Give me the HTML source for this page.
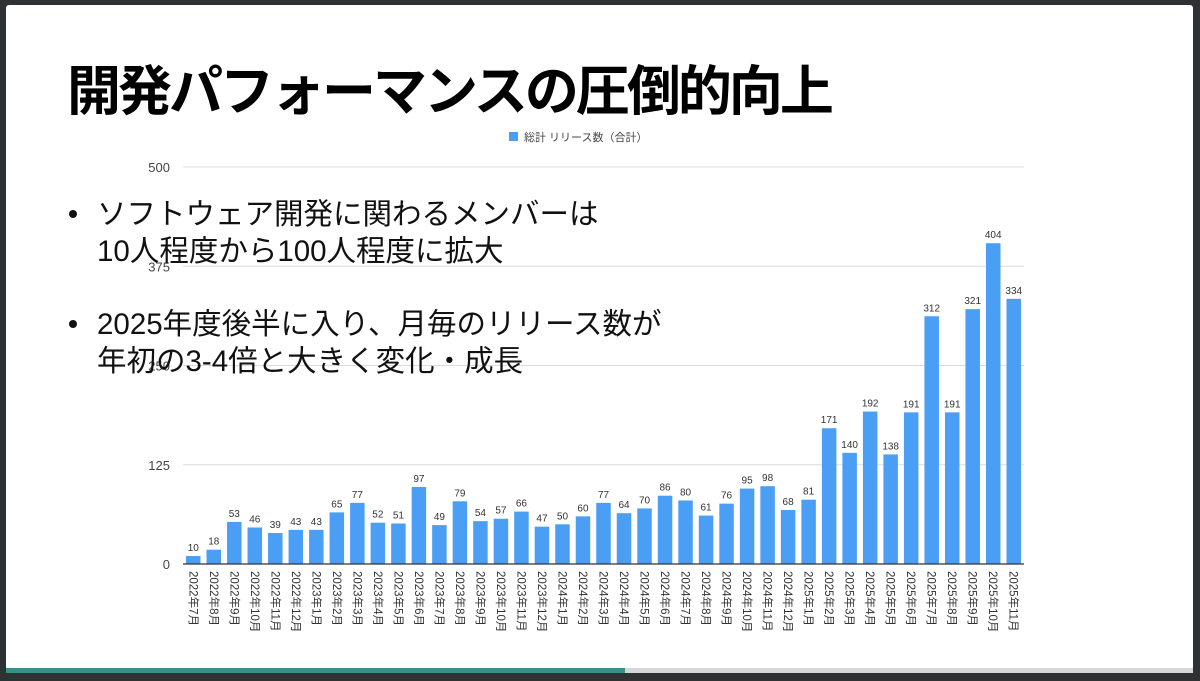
<!DOCTYPE html>
<html><head><meta charset="utf-8">
<style>
html,body{margin:0;padding:0;background:#2f3133;width:1200px;height:681px;overflow:hidden}
#slide{position:absolute;left:6px;top:5px;width:1187px;height:665px;background:#fff;border-radius:3px;overflow:hidden}
#title{position:absolute;left:61px;top:52px;font-family:"Liberation Sans","Noto Sans CJK JP",sans-serif;font-weight:bold;font-size:54px;letter-spacing:-3px;color:#000;white-space:nowrap;line-height:70px}
.bl{position:absolute;font-family:"Liberation Sans","Noto Sans CJK JP",sans-serif;font-size:29.5px;line-height:37px;color:#111;white-space:nowrap}
.dot{position:absolute;width:8px;height:8px;border-radius:50%;background:#111}
#prog{position:absolute;left:6px;top:668px;width:1187px;height:5px;background:#d6d6d6}
#progf{position:absolute;left:0;top:0;width:619px;height:5px;background:#3a8f87}
svg{position:absolute;left:0;top:0}
</style></head><body>
<div id="slide">
<svg id="chart" width="1187" height="665"></svg>
<div id="title">開発パフォーマンスの圧倒的向上</div>
<div class="dot" style="left:63px;top:205px"></div>
<div class="bl" style="left:91px;top:191px">ソフトウェア開発に関わるメンバーは<br>10人程度から100人程度に拡大</div>
<div class="dot" style="left:63px;top:315px"></div>
<div class="bl" style="left:91px;top:301px">2025年度後半に入り、月毎のリリース数が<br>年初の3-4倍と大きく変化・成長</div>
</div>
<div id="prog"><div id="progf"></div></div>
<script>
const categories=["2022年7月","2022年8月","2022年9月","2022年10月","2022年11月","2022年12月","2023年1月","2023年2月","2023年3月","2023年4月","2023年5月","2023年6月","2023年7月","2023年8月","2023年9月","2023年10月","2023年11月","2023年12月","2024年1月","2024年2月","2024年3月","2024年4月","2024年5月","2024年6月","2024年7月","2024年8月","2024年9月","2024年10月","2024年11月","2024年12月","2025年1月","2025年2月","2025年3月","2025年4月","2025年5月","2025年6月","2025年7月","2025年8月","2025年9月","2025年10月","2025年11月"];
const releases=[10,18,53,46,39,43,43,65,77,52,51,97,49,79,54,57,66,47,50,60,77,64,70,86,80,61,76,95,98,68,81,171,140,192,138,191,312,191,321,404,334];
const yTicks=[0,125,250,375,500];
const seriesName="総計 リリース数（合計）";
const NS="http://www.w3.org/2000/svg";
const svg=document.getElementById('chart');
const ox=6,oy=5;
const x0=183-ox,x1=1024-ox,yBase=564-oy,yTop=167-oy,yMax=500;
const y=v=>yBase-(v/yMax)*(yBase-yTop);
const step=(x1-x0)/categories.length;
const xc=i=>x0+step*(i+0.5);
const bw=14.5;
function mk(t,a){const e=document.createElementNS(NS,t);for(const k in a)e.setAttribute(k,a[k]);svg.appendChild(e);return e;}
yTicks.forEach(t=>{
  if(t>0){const g=mk('line',{x1:x0,x2:x1,y1:y(t),y2:y(t),stroke:'#dcdcdc','stroke-width':1});
  
  }
  const l=mk('text',{x:x0-13,y:y(t)+5,'text-anchor':'end','font-size':13,fill:'#444','font-family':'Liberation Sans, sans-serif'});
  l.textContent=t;
  
  
});
releases.forEach((v,i)=>{
  const r=mk('rect',{x:xc(i)-bw/2,y:y(v),width:bw,height:yBase-y(v),fill:'#4a9ff5'});
  
  
  const t=mk('text',{x:xc(i),y:y(v)-5,'text-anchor':'middle','font-size':10,fill:'#333','font-family':'Liberation Sans, sans-serif'});
  t.textContent=v;
  
  
  const c=mk('text',{x:0,y:0,'font-size':11.5,fill:'#333','font-family':'Liberation Sans, Noto Sans CJK JP, sans-serif',transform:`translate(${xc(i)-4},${yBase+7}) rotate(90)`});
  c.textContent=categories[i];
  
  
});
const ax=mk('line',{x1:x0,x2:x1,y1:yBase,y2:yBase,stroke:'#333','stroke-width':1.2});


const lg=mk('rect',{x:509-ox,y:132-oy,width:9,height:9,fill:'#4a9ff5'});


const lt=mk('text',{x:524-ox,y:141-oy,'font-size':11,fill:'#444','font-family':'Liberation Sans, Noto Sans CJK JP, sans-serif'});
lt.textContent=seriesName;


</script>
</body></html>
